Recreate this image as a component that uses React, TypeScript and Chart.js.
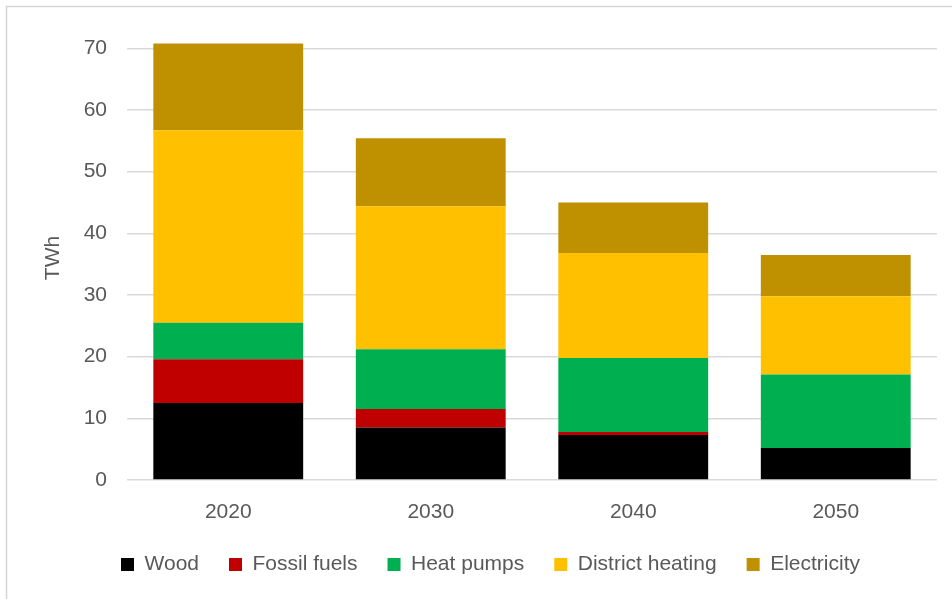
import React, { useEffect, useRef } from "react";
import { Chart, registerables } from "chart.js";

Chart.register(...registerables);

const categories = ["2020", "2030", "2040", "2050"];
const wood = [12.5, 8.5, 7.3, 5.2];
const fossilFuels = [7.1, 3.0, 0.5, 0];
const heatPumps = [5.9, 9.7, 12.0, 11.9];
const districtHeating = [31.2, 23.2, 17.0, 12.7];
const electricity = [14.1, 11.0, 8.2, 6.7];
const yTicks = [0, 10, 20, 30, 40, 50, 60, 70];

const FONT = "'Liberation Sans', Arial, sans-serif";
const TEXT = "#595959";

const frame = {
  id: "frame",
  beforeDraw(chart: any) {
    const ctx = chart.ctx;
    ctx.save();
    ctx.fillStyle = "#ffffff";
    ctx.fillRect(0, 0, chart.width, chart.height);
    ctx.strokeStyle = "#d6d6d6";
    ctx.lineWidth = 1.5;
    ctx.beginPath();
    ctx.moveTo(6.5, chart.height);
    ctx.lineTo(6.5, 6.5);
    ctx.lineTo(chart.width, 6.5);
    ctx.stroke();
    ctx.restore();
  },
};

const legendShift = {
  id: "legendShift",
  afterLayout(chart: any) {
    const lg = chart.legend;
    if (lg) {
      lg.left += 22;
      lg.right += 22;
    }
  },
};

export default function App() {
  const ref = useRef<HTMLCanvasElement>(null);
  useEffect(() => {
    document.body.style.margin = "0";
    const chart = new Chart(ref.current!, {
      type: "bar",
      data: {
        labels: categories,
        datasets: [
          { label: "Wood", data: wood, backgroundColor: "#000000" },
          { label: "Fossil fuels", data: fossilFuels, backgroundColor: "#C00000" },
          { label: "Heat pumps", data: heatPumps, backgroundColor: "#00B050" },
          { label: "District heating", data: districtHeating, backgroundColor: "#FFC000" },
          { label: "Electricity", data: electricity, backgroundColor: "#BF9000" },
        ],
      },
      options: {
        responsive: false,
        animation: false,
        layout: { padding: { top: 36, right: 15, left: 0, bottom: 14 } },
        datasets: { bar: { categoryPercentage: 1, barPercentage: 0.74 } },
        plugins: {
          tooltip: { enabled: false },
          legend: {
            position: "bottom",
            labels: {
              boxWidth: 13,
              boxHeight: 13,
              padding: 30,
              color: TEXT,
              font: { family: FONT, size: 21 },
            },
          },
        },
        scales: {
          x: {
            stacked: true,
            grid: { display: false },
            border: { display: false },
            ticks: { color: TEXT, font: { family: FONT, size: 21 }, padding: 12 },
            afterFit: (s: any) => {
              s.height = 44;
            },
          },
          y: {
            stacked: true,
            min: 0,
            max: 72,
            ticks: {
              stepSize: 10,
              color: TEXT,
              padding: 20,
              font: { family: FONT, size: 21 },
            },
            afterBuildTicks: (axis: any) => {
              axis.ticks = yTicks.map((v) => ({ value: v }));
            },
            grid: { color: "#d9d9d9", lineWidth: 1.5, drawTicks: false },
            border: { display: false },
            title: {
              display: true,
              text: "TWh",
              color: TEXT,
              font: { family: FONT, size: 21 },
              padding: { top: 41, bottom: 0 },
            },
            afterFit: (s: any) => {
              s.width = 127;
            },
          },
        },
      },
      plugins: [frame, legendShift],
    });
    return () => chart.destroy();
  }, []);
  return <canvas ref={ref} width={952} height={599} style={{ display: "block" }} />;
}
